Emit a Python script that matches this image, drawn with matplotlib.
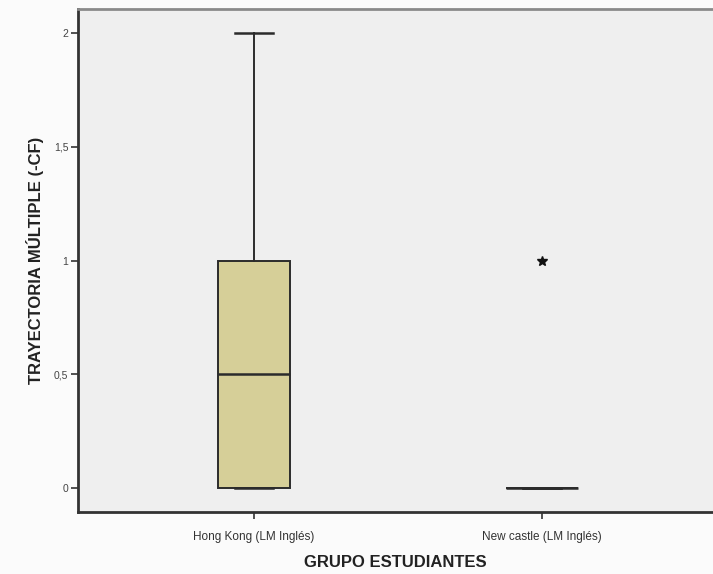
import numpy as np
import matplotlib
matplotlib.use("Agg")
import matplotlib.pyplot as plt

plt.rcParams.update({
    "font.family": ["Liberation Sans", "DejaVu Sans"],
    "font.size": 7,
})

# ── Data ─────────────────────────────────────────────────────────────────────
groups    = ["Hong Kong (LM Inglés)", "New castle (LM Inglés)"]
q_min     = [0.0, 0.0]
q1        = [0.0, 0.0]
medians   = [0.5, 0.0]
q3        = [1.0, 0.0]
q_max     = [2.0, 0.0]
extremes  = [[], [1.0]]          # SPSS "*" extreme values
yticks    = [0, 0.5, 1, 1.5, 2]
ytick_lbl = ["0", "0,5", "1", "1,5", "2"]

BOX_FILL = "#d6cf98"
EDGE     = "#2b2b2b"

fig = plt.figure(figsize=(7.13, 5.74), dpi=100, facecolor="#fbfbfb")
ax = fig.add_axes([0.1094, 0.108, 0.8906, 0.876])
ax.set_facecolor("#efefef")

stats = [dict(med=m, q1=a, q3=b, whislo=lo, whishi=hi, fliers=[], label=g)
         for g, lo, a, m, b, hi in zip(groups, q_min, q1, medians, q3, q_max)]
pos = np.arange(1, len(groups) + 1)
ax.bxp(stats, positions=pos, widths=0.253, patch_artist=True, showfliers=False,
       boxprops=dict(facecolor=BOX_FILL, edgecolor=EDGE, linewidth=1.4),
       medianprops=dict(color=EDGE, linewidth=1.8),
       whiskerprops=dict(color=EDGE, linewidth=1.4),
       capprops=dict(color=EDGE, linewidth=1.8), capwidths=0.13)

for p, ex in zip(pos, extremes):
    if ex:
        ax.plot([p] * len(ex), ex, linestyle="none", marker="*",
                markersize=7, color="#111111")

ax.set_xlim(0.389, 2.594)
ax.set_ylim(-0.105, 2.105)
ax.set_xticks(pos)
ax.set_xticklabels(groups, color="#333333", fontsize=8.5)
ax.set_yticks(yticks)
ax.set_yticklabels(ytick_lbl, color="#444444", fontsize=7.5)
ax.tick_params(direction="out", length=5, width=1.2, color="#333333", pad=2)
ax.tick_params(axis="x", pad=9)

for s in ["left", "bottom"]:
    ax.spines[s].set_linewidth(2.0)
    ax.spines[s].set_color("#333333")
ax.spines["top"].set_linewidth(2.0)
ax.spines["top"].set_color("#8a8a8a")
ax.spines["right"].set_visible(False)

ax.set_xlabel("GRUPO ESTUDIANTES", fontsize=12, fontweight="bold",
              color="#222222", labelpad=8)
ax.set_ylabel("TRAYECTORIA MÚLTIPLE (-CF)", fontsize=12, fontweight="bold",
              color="#222222", labelpad=7)

fig.savefig("out.png", dpi=100, facecolor=fig.get_facecolor())
